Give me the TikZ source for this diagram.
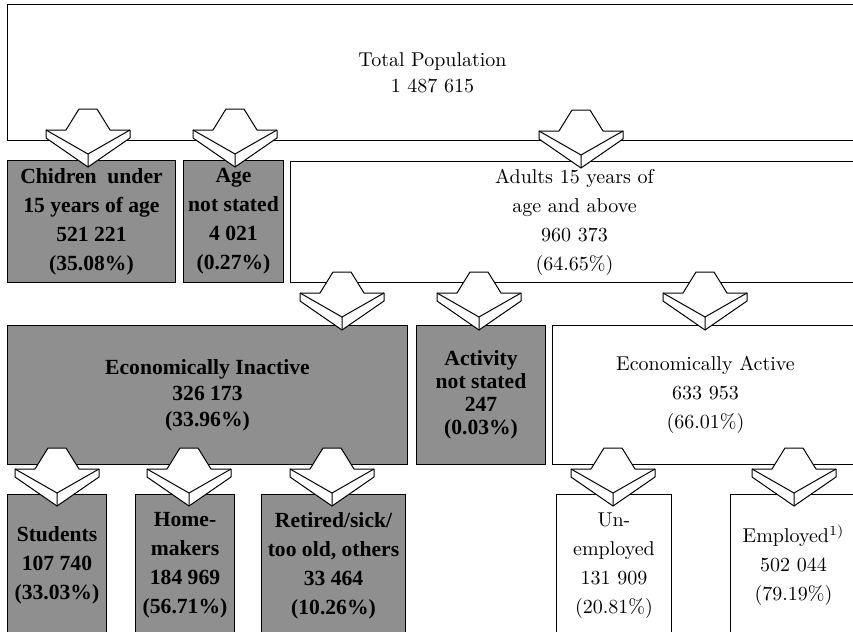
\documentclass[tikz,border=0pt]{standalone}
\usepackage{fontspec}
\newfontfamily\greyfont{Liberation Serif}
\usepackage{tikz}
\usetikzlibrary{calc}
\definecolor{screen}{gray}{0.56}
\newcommand{\px}{0.5pt}
\tikzset{
  box/.style={draw, line width=0.5pt, fill=white, anchor=north west, inner sep=0pt,
    align=center, font=\fontsize{10}{14.5}\selectfont},
  greybox/.style={box, fill=screen, font=\greyfont\bfseries\fontsize{10.8}{14.5}\selectfont},
  blockarrow/.pic={
    \draw[fill=white, line width=0.5pt, line join=round] (-9,-58) -- (9,-58) -- (22,-37) -- (42,-37)
      -- (42,-29) -- (0,0) -- (-42,-29) -- (-42,-37) -- (-22,-37) -- cycle;
    \draw[line width=0.5pt] (-42,-37) -- (0,-13) -- (42,-37) (0,-13) -- (0,0);
  }
}
% block arrow: [tip below top edge] {x of the tip} {target node}
\newcommand{\flowarrow}[3][7]{\pic at ($(#2,0 |- #3.north)+(0,#1)$) {blockarrow};}

\begin{document}
\begin{tikzpicture}[x=\px, y=-\px]
  %%%%% START %%%%%
  \useasboundingbox (0,0) rectangle (853,632);

  \node[box, minimum width=850*\px, minimum height=136*\px, font=\fontsize{10}{13}\selectfont] (total) at (7,4)
    {Total Population\\1 487 615};

  \node[greybox, minimum width=168*\px, minimum height=122*\px] (child) at (7,160)
    {Chidren\ \ under\\15 years of age\\521 221\\(35.08\%)};
  \node[greybox, minimum width=100*\px, minimum height=122*\px] (age) at (183,160)
    {Age\\not stated\\4 021\\(0.27\%)};
  \node[box, minimum width=568*\px, minimum height=121*\px] (adults) at (290,161)
    {Adults 15 years of\\age and above\\960 373\\(64.65\%)};

  \node[greybox, minimum width=400*\px, minimum height=139*\px, font=\greyfont\bfseries\fontsize{10.8}{13}\selectfont] (inactive) at (7,325)
    {Economically Inactive\\326 173\\(33.96\%)};
  \node[greybox, minimum width=129*\px, minimum height=139*\px, font=\greyfont\bfseries\fontsize{10.8}{11.5}\selectfont] (actns) at (416,325)
    {Activity\\not stated\\247\\(0.03\%)};
  \node[box, minimum width=306*\px, minimum height=139*\px] (active) at (552,325)
    {Economically Active\\633 953\\(66.01\%)};

  \node[greybox, minimum width=99*\px, minimum height=142*\px] (students) at (7,494)
    {Students\\107 740\\(33.03\%)};
  \node[greybox, minimum width=99*\px, minimum height=142*\px] (home) at (135,494)
    {Home-\\makers\\184 969\\(56.71\%)};
  \node[greybox, minimum width=144*\px, minimum height=142*\px] (retired) at (261,494)
    {Retired/sick/\\too old, others\\33 464\\(10.26\%)};
  \node[box, minimum width=115*\px, minimum height=142*\px] (unemp) at (556,494)
    {Un-\\employed\\131 909\\(20.81\%)};
  \node[box, minimum width=126*\px, minimum height=142*\px] (emp) at (730,494)
    {Employed\textsuperscript{1)}\\502 044\\(79.19\%)};

  % total -> children, age, adults
  \flowarrow{88}{child}
  \flowarrow{235}{age}
  \flowarrow{581}{adults}
  % adults -> inactive, not stated, active
  \flowarrow[5]{342}{inactive}
  \flowarrow[5]{479}{actns}
  \flowarrow[5]{705}{active}
  % inactive -> students, home-makers, retired
  \flowarrow[12]{57}{students}
  \flowarrow[12]{189}{home}
  \flowarrow[12]{332}{retired}
  % active -> unemployed, employed
  \flowarrow[12]{613}{unemp}
  \flowarrow[12]{794}{emp}
  %%%%% END %%%%%
\end{tikzpicture}
\end{document}
